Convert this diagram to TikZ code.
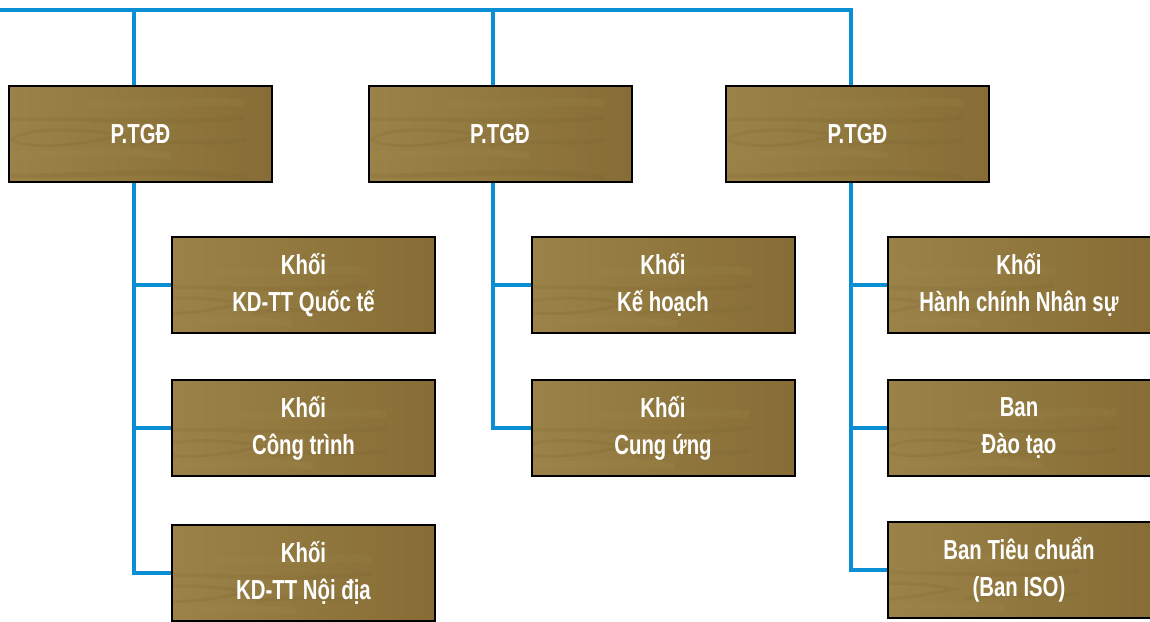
\documentclass[tikz,border=0pt]{standalone}
\usepackage{fontspec}
\setmainfont{Liberation Sans}[FakeStretch=0.74]
\usetikzlibrary{backgrounds}
\definecolor{connc}{HTML}{0A8FD4}
\definecolor{woodA}{HTML}{9A8248}
\definecolor{woodB}{HTML}{876D35}
\definecolor{grainc}{HTML}{6A5220}
\definecolor{grainl}{HTML}{A8904F}
\tikzset{
  wood/.style={draw=black, line width=2pt, minimum width=263pt, minimum height=96pt,
    left color=woodA, right color=woodB, inner sep=0pt, text=white,
    font=\bfseries\fontsize{27.5}{37}\selectfont, align=center,
    path picture={
      \begin{scope}[shift={(path picture bounding box.center)}]
        \draw[grainc, opacity=0.12, line width=5pt] (-135pt,-30pt) .. controls (-60pt,-38pt) and (30pt,-22pt) .. (135pt,-34pt);
        \draw[grainc, opacity=0.10, line width=4pt] (-135pt,22pt) .. controls (-50pt,30pt) and (40pt,16pt) .. (135pt,26pt);
        \draw[grainc, opacity=0.12, line width=3pt] (-100pt,4pt) .. controls (-80pt,18pt) and (-20pt,14pt) .. (10pt,8pt) .. controls (-20pt,0pt) and (-80pt,-8pt) .. (-100pt,4pt);
        \draw[grainl, opacity=0.18, line width=7pt] (-135pt,-8pt) .. controls (-70pt,-16pt) and (-10pt,-4pt) .. (60pt,-12pt);
        \draw[grainl, opacity=0.14, line width=8pt] (-20pt,40pt) .. controls (40pt,36pt) and (90pt,44pt) .. (135pt,40pt);
        \draw[grainc, opacity=0.10, line width=4pt] (20pt,-2pt) .. controls (60pt,6pt) and (100pt,-4pt) .. (135pt,4pt);
      \end{scope}}},
  conn/.style={draw=connc, line width=4pt, line join=miter}
}
\begin{document}
\begin{tikzpicture}[x=1pt, y=-1pt]
\useasboundingbox (0,0) rectangle (1150,621);
% top level
\node[wood] (p1) at (140.5,134) {P.TGĐ};
\node[wood] (p2) at (500,134) {P.TGĐ};
\node[wood] (p3) at (857.5,134) {P.TGĐ};
% column 1
\node[wood] (c11) at (303.5,285) {Khối\\KD-TT Quốc tế};
\node[wood] (c12) at (303.5,428) {Khối\\Công trình};
\node[wood] (c13) at (303.5,573) {Khối\\KD-TT Nội địa};
% column 2
\node[wood] (c21) at (663,285) {Khối\\Kế hoạch};
\node[wood] (c22) at (663,428) {Khối\\Cung ứng};
% column 3
\node[wood] (c31) at (1019,285) {Khối\\Hành chính Nhân sự};
\node[wood] (c32) at (1019,428) {Ban\\Đào tạo};
\node[wood] (c33) at (1019,570) {Ban Tiêu chuẩn\\(Ban ISO)};

\coordinate (start) at (-2,10);
\coordinate (u1) at ([xshift=-6.5pt]p1.north);
\coordinate (u2) at ([xshift=-7pt]p2.north);
\coordinate (u3) at ([xshift=-6.5pt]p3.north);
\coordinate (d1) at ([xshift=-6.5pt]p1.south);
\coordinate (d2) at ([xshift=-7pt]p2.south);
\coordinate (d3) at ([xshift=-6.5pt]p3.south);

\begin{scope}[on background layer]
\draw[conn] (start) -| (u3);
\draw[conn] (u1 |- start) -- (u1);
\draw[conn] (u2 |- start) -- (u2);
\draw[conn] (d1) |- (c13.west);
\draw[conn] (d1 |- c11.west) -- (c11.west);
\draw[conn] (d1 |- c12.west) -- (c12.west);
\draw[conn] (d2) |- (c22.west);
\draw[conn] (d2 |- c21.west) -- (c21.west);
\draw[conn] (d3) |- (c33.west);
\draw[conn] (d3 |- c31.west) -- (c31.west);
\draw[conn] (d3 |- c32.west) -- (c32.west);
\end{scope}
\end{tikzpicture}
\end{document}
